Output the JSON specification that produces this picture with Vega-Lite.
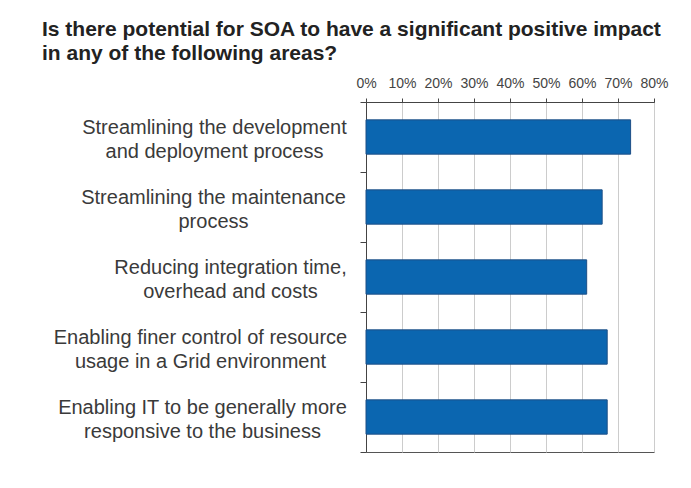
{
  "$schema": "https://vega.github.io/schema/vega-lite/v6.json",
  "autosize": {"type": "none"},
  "padding": {"left": 366, "top": 102, "right": 37, "bottom": 36},
  "width": 288,
  "height": 350,
  "background": "white",
  "title": {
    "text": ["Is there potential for SOA to have a significant positive impact", "in any of the following areas?"],
    "anchor": "start",
    "frame": "group",
    "dx": -324,
    "dy": 2,
    "font": "Liberation Sans",
    "fontSize": 21,
    "fontWeight": "bold",
    "color": "#222222",
    "lineHeight": 24,
    "offset": 14
  },
  "data": {
    "values": [
      {"area": "Streamlining the development|and deployment process", "pct": 73.5},
      {"area": "Streamlining the maintenance|process", "pct": 65.6},
      {"area": "Reducing integration time,|overhead and costs", "pct": 61.3},
      {"area": "Enabling finer control of resource|usage in a Grid environment", "pct": 67},
      {"area": "Enabling IT to be generally more|responsive to the business", "pct": 67}
    ]
  },
  "mark": {"type": "bar", "color": "#0b66b0", "stroke": "#1d4f86", "strokeWidth": 1, "height": {"band": 0.49}},
  "encoding": {
    "y": {
      "field": "area",
      "type": "nominal",
      "sort": null,
      "scale": {"paddingInner": 0, "paddingOuter": 0},
      "axis": {
        "title": null,
        "labelExpr": "datum.value ? split(datum.value, '|') : ''",
        "labelAlign": "center",
        "labelBaseline": "middle",
        "labelFont": "Liberation Sans",
        "labelFontSize": 20,
        "labelColor": "#3a3a3a",
        "labelLineHeight": 24,
        "labelPadding": {
          "condition": [
            {"test": "datum.value && indexof(datum.value, 'Reducing') == 0", "value": 130},
            {"test": "datum.value && indexof(datum.value, 'Enabling finer') == 0", "value": 160},
            {"test": "datum.value && indexof(datum.value, 'Enabling IT') == 0", "value": 158},
            {"test": "datum.value && indexof(datum.value, 'Streamlining the maint') == 0", "value": 147}
          ],
          "value": 146
        },
        "labelOffset": -10,
        "labelLimit": 0,
        "labelOverlap": false,
        "tickBand": "extent",
        "tickSize": 6,
        "tickColor": "#444444",
        "domainColor": "#444444",
        "grid": false
      }
    },
    "x": {
      "field": "pct",
      "type": "quantitative",
      "scale": {"domain": [0, 80], "nice": false},
      "axis": {
        "orient": "top",
        "title": null,
        "values": [0, 10, 20, 30, 40, 50, 60, 70, 80],
        "labelExpr": "datum.value + '%'",
        "labelFont": "Liberation Sans",
        "labelFontSize": 14,
        "labelColor": "#444444",
        "labelPadding": 8,
        "labelOverlap": false,
        "labelFlush": false,
        "tickSize": 4,
        "tickColor": "#444444",
        "domainColor": "#444444",
        "grid": true,
        "gridColor": "#cccccc",
        "gridWidth": 1
      }
    }
  },
  "config": {
    "view": {"stroke": "#555555", "strokeWidth": 1}
  }
}
